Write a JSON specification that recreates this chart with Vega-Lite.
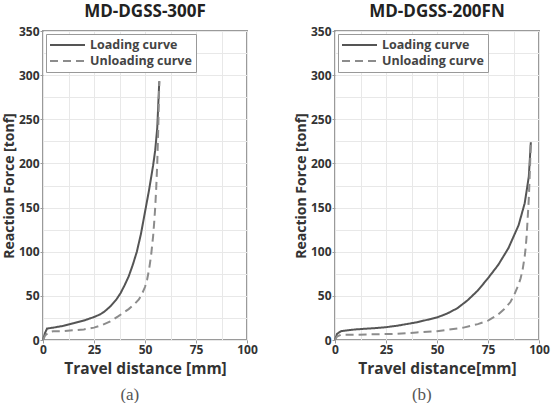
{
  "$schema": "https://vega.github.io/schema/vega-lite/v6.json",
  "padding": {"left": 1, "top": 2, "right": 0, "bottom": 0},
  "background": "white",
  "datasets": {
    "a": [
      {"curve": "Loading curve", "x": 0, "y": 0},
      {"curve": "Loading curve", "x": 1, "y": 8},
      {"curve": "Loading curve", "x": 2, "y": 13},
      {"curve": "Loading curve", "x": 5, "y": 14},
      {"curve": "Loading curve", "x": 10, "y": 16},
      {"curve": "Loading curve", "x": 15, "y": 19},
      {"curve": "Loading curve", "x": 20, "y": 22},
      {"curve": "Loading curve", "x": 25, "y": 26},
      {"curve": "Loading curve", "x": 28, "y": 29},
      {"curve": "Loading curve", "x": 30, "y": 32},
      {"curve": "Loading curve", "x": 33, "y": 38},
      {"curve": "Loading curve", "x": 36, "y": 46},
      {"curve": "Loading curve", "x": 38, "y": 53},
      {"curve": "Loading curve", "x": 40, "y": 62},
      {"curve": "Loading curve", "x": 42, "y": 72},
      {"curve": "Loading curve", "x": 44, "y": 85},
      {"curve": "Loading curve", "x": 46, "y": 100},
      {"curve": "Loading curve", "x": 48, "y": 120},
      {"curve": "Loading curve", "x": 50, "y": 145},
      {"curve": "Loading curve", "x": 52, "y": 170},
      {"curve": "Loading curve", "x": 54, "y": 198},
      {"curve": "Loading curve", "x": 55, "y": 215},
      {"curve": "Loading curve", "x": 56, "y": 240},
      {"curve": "Loading curve", "x": 57, "y": 293},
      {"curve": "Unloading curve", "x": 0, "y": 0},
      {"curve": "Unloading curve", "x": 1, "y": 5},
      {"curve": "Unloading curve", "x": 3, "y": 9},
      {"curve": "Unloading curve", "x": 5, "y": 10},
      {"curve": "Unloading curve", "x": 10, "y": 10},
      {"curve": "Unloading curve", "x": 15, "y": 11},
      {"curve": "Unloading curve", "x": 20, "y": 12},
      {"curve": "Unloading curve", "x": 25, "y": 14},
      {"curve": "Unloading curve", "x": 29, "y": 17},
      {"curve": "Unloading curve", "x": 33, "y": 21},
      {"curve": "Unloading curve", "x": 37, "y": 27},
      {"curve": "Unloading curve", "x": 42, "y": 35},
      {"curve": "Unloading curve", "x": 45, "y": 41},
      {"curve": "Unloading curve", "x": 47, "y": 46},
      {"curve": "Unloading curve", "x": 48.5, "y": 52},
      {"curve": "Unloading curve", "x": 50, "y": 60},
      {"curve": "Unloading curve", "x": 51, "y": 68},
      {"curve": "Unloading curve", "x": 52, "y": 80},
      {"curve": "Unloading curve", "x": 53, "y": 96},
      {"curve": "Unloading curve", "x": 54, "y": 118},
      {"curve": "Unloading curve", "x": 54.5, "y": 133},
      {"curve": "Unloading curve", "x": 55, "y": 150},
      {"curve": "Unloading curve", "x": 55.5, "y": 172},
      {"curve": "Unloading curve", "x": 56, "y": 200},
      {"curve": "Unloading curve", "x": 56.5, "y": 240},
      {"curve": "Unloading curve", "x": 57, "y": 293}
    ],
    "b": [
      {"curve": "Loading curve", "x": 0, "y": 0},
      {"curve": "Loading curve", "x": 1, "y": 7},
      {"curve": "Loading curve", "x": 3, "y": 10},
      {"curve": "Loading curve", "x": 10, "y": 12},
      {"curve": "Loading curve", "x": 20, "y": 13.5},
      {"curve": "Loading curve", "x": 25, "y": 14.5},
      {"curve": "Loading curve", "x": 30, "y": 16},
      {"curve": "Loading curve", "x": 40, "y": 20},
      {"curve": "Loading curve", "x": 50, "y": 25.5},
      {"curve": "Loading curve", "x": 55, "y": 30},
      {"curve": "Loading curve", "x": 60, "y": 36},
      {"curve": "Loading curve", "x": 65, "y": 45},
      {"curve": "Loading curve", "x": 70, "y": 56},
      {"curve": "Loading curve", "x": 75, "y": 70},
      {"curve": "Loading curve", "x": 80, "y": 85},
      {"curve": "Loading curve", "x": 85, "y": 104},
      {"curve": "Loading curve", "x": 90, "y": 130},
      {"curve": "Loading curve", "x": 93, "y": 155},
      {"curve": "Loading curve", "x": 95, "y": 185},
      {"curve": "Loading curve", "x": 96, "y": 224},
      {"curve": "Unloading curve", "x": 0, "y": 0},
      {"curve": "Unloading curve", "x": 1, "y": 4},
      {"curve": "Unloading curve", "x": 3, "y": 6},
      {"curve": "Unloading curve", "x": 10, "y": 6},
      {"curve": "Unloading curve", "x": 20, "y": 6.5},
      {"curve": "Unloading curve", "x": 30, "y": 7},
      {"curve": "Unloading curve", "x": 40, "y": 8.5},
      {"curve": "Unloading curve", "x": 50, "y": 10},
      {"curve": "Unloading curve", "x": 55, "y": 11.5},
      {"curve": "Unloading curve", "x": 63, "y": 14},
      {"curve": "Unloading curve", "x": 70, "y": 18},
      {"curve": "Unloading curve", "x": 75, "y": 22},
      {"curve": "Unloading curve", "x": 80, "y": 29},
      {"curve": "Unloading curve", "x": 83, "y": 35},
      {"curve": "Unloading curve", "x": 86, "y": 43},
      {"curve": "Unloading curve", "x": 88, "y": 52},
      {"curve": "Unloading curve", "x": 90, "y": 63},
      {"curve": "Unloading curve", "x": 91, "y": 70},
      {"curve": "Unloading curve", "x": 92, "y": 80},
      {"curve": "Unloading curve", "x": 93, "y": 95},
      {"curve": "Unloading curve", "x": 93.5, "y": 105},
      {"curve": "Unloading curve", "x": 94, "y": 120},
      {"curve": "Unloading curve", "x": 94.5, "y": 140},
      {"curve": "Unloading curve", "x": 95, "y": 160},
      {"curve": "Unloading curve", "x": 95.5, "y": 190},
      {"curve": "Unloading curve", "x": 96, "y": 224}
    ]
  },
  "config": {
    "font": "Open Sans",
    "view": {"stroke": "#9a9a9a", "strokeWidth": 2},
    "axis": {
      "labelFont": "Open Sans",
      "labelFontSize": 12,
      "labelFontWeight": "bold",
      "labelColor": "#333",
      "titleFont": "Open Sans",
      "titleFontWeight": "bold",
      "titleColor": "#333",
      "gridColor": "#e8e8e8",
      "gridWidth": 1,
      "domain": false,
      "tickSize": 3,
      "tickColor": "#9a9a9a",
      "labelPadding": 1
    },
    "axisX": {"titlePadding": 6, "titleFontSize": 15.5},
    "axisY": {"titlePadding": 2, "titleFontSize": 14},
    "title": {"font": "Open Sans", "fontSize": 17, "fontWeight": "bold", "color": "#222", "offset": 0},
    "legend": {
      "orient": "top-left",
      "offset": 3,
      "title": null,
      "strokeColor": "#999",
      "fillColor": "white",
      "padding": 4,
      "labelFont": "Open Sans",
      "labelFontSize": 12.5,
      "labelFontWeight": "bold",
      "labelColor": "#444",
      "symbolType": "M-1.1667,0H4.6667",
      "symbolSize": 144,
      "symbolStrokeWidth": 2,
      "labelOffset": 26,
      "rowPadding": 2,
      "cornerRadius": 0
    },
    "line": {"strokeWidth": 2}
  },
  "spacing": 34,
  "resolve": {"scale": {"color": "independent", "strokeDash": "independent"}, "legend": {"color": "independent", "strokeDash": "independent"}},
  "hconcat": [
    {
      "title": {"text": "(a)", "orient": "bottom", "anchor": "middle", "font": "Liberation Serif", "fontSize": 17, "fontWeight": "normal", "color": "#555", "offset": 9},
      "hconcat": [
        {
          "title": "MD-DGSS-300F",
          "width": 204,
          "height": 309,
          "data": {"name": "a"},
          "mark": {"type": "line", "strokeWidth": 2},
          "encoding": {
            "x": {"field": "x", "type": "quantitative", "title": "Travel distance [mm]",
              "scale": {"domain": [0, 100], "nice": false},
              "axis": {"values": [0, 12.5, 25, 37.5, 50, 62.5, 75, 87.5, 100], "labelExpr": "datum.value % 25 == 0 ? datum.label : ''", "tickOpacity": {"expr": "datum.value % 25 == 0 ? 1 : 0"}, "labelFlush": false, "labelOverlap": false}},
            "y": {"field": "y", "type": "quantitative", "title": "Reaction Force [tonf]",
              "scale": {"domain": [0, 350], "nice": false},
              "axis": {"values": [0, 25, 50, 75, 100, 125, 150, 175, 200, 225, 250, 275, 300, 325, 350], "labelExpr": "datum.value % 50 == 0 ? datum.label : ''", "tickOpacity": {"expr": "datum.value % 50 == 0 ? 1 : 0"}, "labelOverlap": false}},
            "color": {"field": "curve", "type": "nominal", "scale": {"domain": ["Loading curve", "Unloading curve"], "range": ["#555555", "#8c8c8c"]}},
            "strokeDash": {"field": "curve", "type": "nominal", "scale": {"domain": ["Loading curve", "Unloading curve"], "range": [[1, 0], [8, 5]]}}
          }
        }
      ]
    },
    {
      "title": {"text": "(b)", "orient": "bottom", "anchor": "middle", "font": "Liberation Serif", "fontSize": 17, "fontWeight": "normal", "color": "#555", "offset": 9},
      "hconcat": [
        {
          "title": "MD-DGSS-200FN",
          "width": 204,
          "height": 309,
          "data": {"name": "b"},
          "mark": {"type": "line", "strokeWidth": 2},
          "encoding": {
            "x": {"field": "x", "type": "quantitative", "title": "Travel distance[mm]",
              "scale": {"domain": [0, 100], "nice": false},
              "axis": {"values": [0, 12.5, 25, 37.5, 50, 62.5, 75, 87.5, 100], "labelExpr": "datum.value % 25 == 0 ? datum.label : ''", "tickOpacity": {"expr": "datum.value % 25 == 0 ? 1 : 0"}, "labelFlush": false, "labelOverlap": false}},
            "y": {"field": "y", "type": "quantitative", "title": "Reaction Force [tonf]",
              "scale": {"domain": [0, 350], "nice": false},
              "axis": {"values": [0, 25, 50, 75, 100, 125, 150, 175, 200, 225, 250, 275, 300, 325, 350], "labelExpr": "datum.value % 50 == 0 ? datum.label : ''", "tickOpacity": {"expr": "datum.value % 50 == 0 ? 1 : 0"}, "labelOverlap": false}},
            "color": {"field": "curve", "type": "nominal", "scale": {"domain": ["Loading curve", "Unloading curve"], "range": ["#555555", "#8c8c8c"]}},
            "strokeDash": {"field": "curve", "type": "nominal", "scale": {"domain": ["Loading curve", "Unloading curve"], "range": [[1, 0], [8, 5]]}}
          }
        }
      ]
    }
  ]
}
